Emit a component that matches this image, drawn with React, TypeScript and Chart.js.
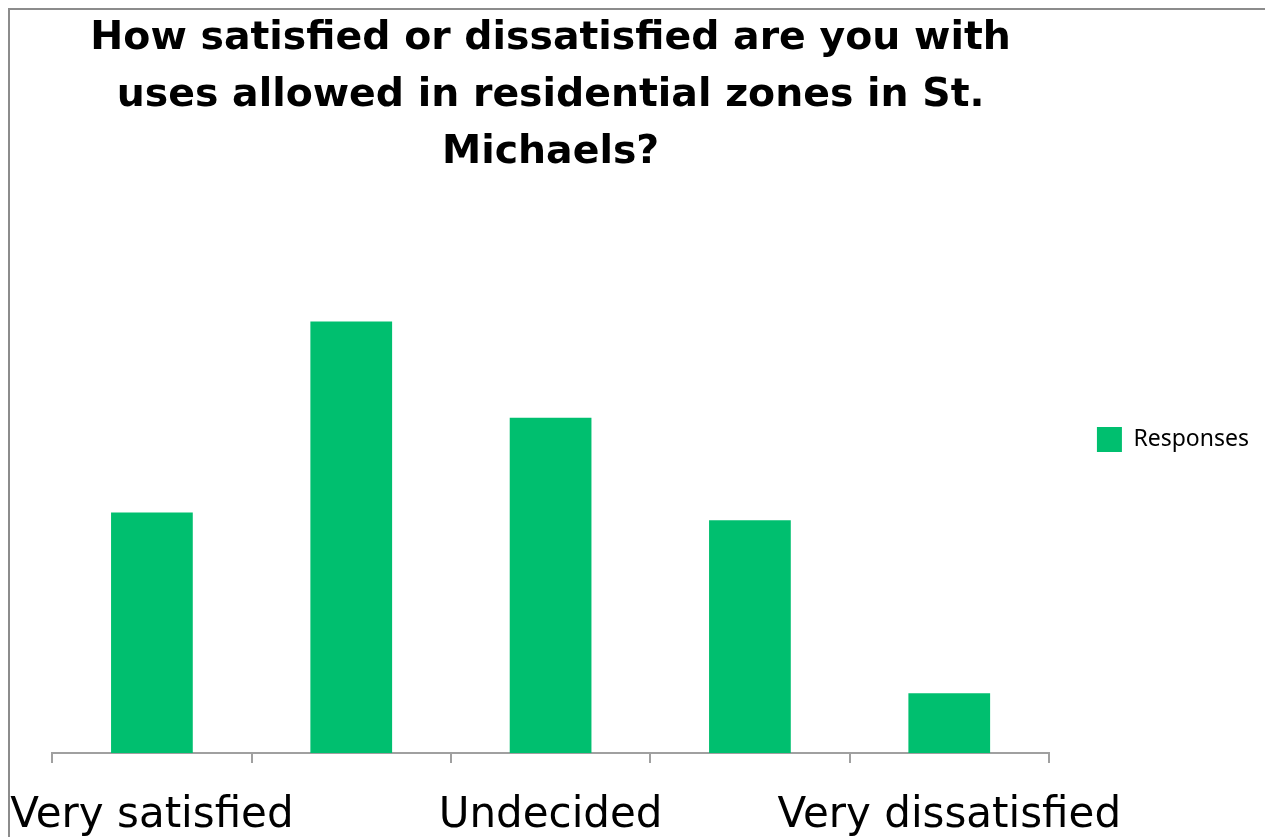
import { useEffect, useRef } from 'react';
import { Chart, registerables } from 'chart.js';

Chart.register(...registerables);

const categories = ['Very satisfied', 'Satisfied', 'Undecided', 'Dissatisfied', 'Very dissatisfied'];
const responses = [18.5, 33.2, 25.8, 17.9, 4.6];
const titleLines = [
  'How satisfied or dissatisfied are you with',
  'uses allowed in residential zones in St.',
  'Michaels?',
];
const seriesLabel = 'Responses';
const yMax = 40;

export default function App() {
  const ref = useRef<HTMLCanvasElement | null>(null);

  useEffect(() => {
    if (!ref.current) return;
    const chart = new Chart(ref.current, {
      type: 'bar',
      data: {
        labels: categories,
        datasets: [
          {
            label: seriesLabel,
            data: responses,
            backgroundColor: '#00BF6F',
            borderWidth: 0,
            categoryPercentage: 1,
            barPercentage: 0.41,
          },
        ],
      },
      options: {
        responsive: false,
        animation: false,
        layout: { padding: 0 },
        plugins: {
          title: {
            display: true,
            text: titleLines,
            fullSize: false,
            color: '#000',
            font: { family: 'DejaVu Sans', weight: 'bold', size: 39.4, lineHeight: 1.447 },
            padding: { top: 0, bottom: 52 },
          },
          legend: {
            display: true,
            position: 'right',
            labels: {
              boxWidth: 25,
              boxHeight: 25,
              padding: 48,
              color: '#000',
              font: { family: 'Noto Sans', size: 23 },
            },
          },
          tooltip: { enabled: false },
        },
        scales: {
          x: {
            offset: true,
            grid: {
              display: true,
              offset: true,
              drawOnChartArea: false,
              drawTicks: true,
              tickLength: 10,
              color: '#a0a0a0',
              lineWidth: 2,
            },
            border: { display: true, color: '#a0a0a0', width: 2 },
            ticks: {
              color: '#000',
              font: { family: 'DejaVu Sans', size: 42, lineHeight: 2.714 },
              maxRotation: 0,
              minRotation: 0,
              autoSkip: false,
              padding: -4,
              callback: (_v: any, i: number) => (i % 2 === 0 ? categories[i] : ''),
            },
          },
          y: {
            display: false,
            min: 0,
            max: yMax,
          },
        },
      },
    });
    return () => chart.destroy();
  }, []);

  return (
    <div
      style={{
        position: 'fixed',
        left: 8,
        top: 8,
        width: 1400,
        height: 1000,
        borderLeft: '2px solid #8c8c8c',
        borderTop: '2px solid #8c8c8c',
        background: '#fff',
      }}
    >
      <canvas ref={ref} width={1249} height={859} style={{ display: 'block' }} />
    </div>
  );
}
